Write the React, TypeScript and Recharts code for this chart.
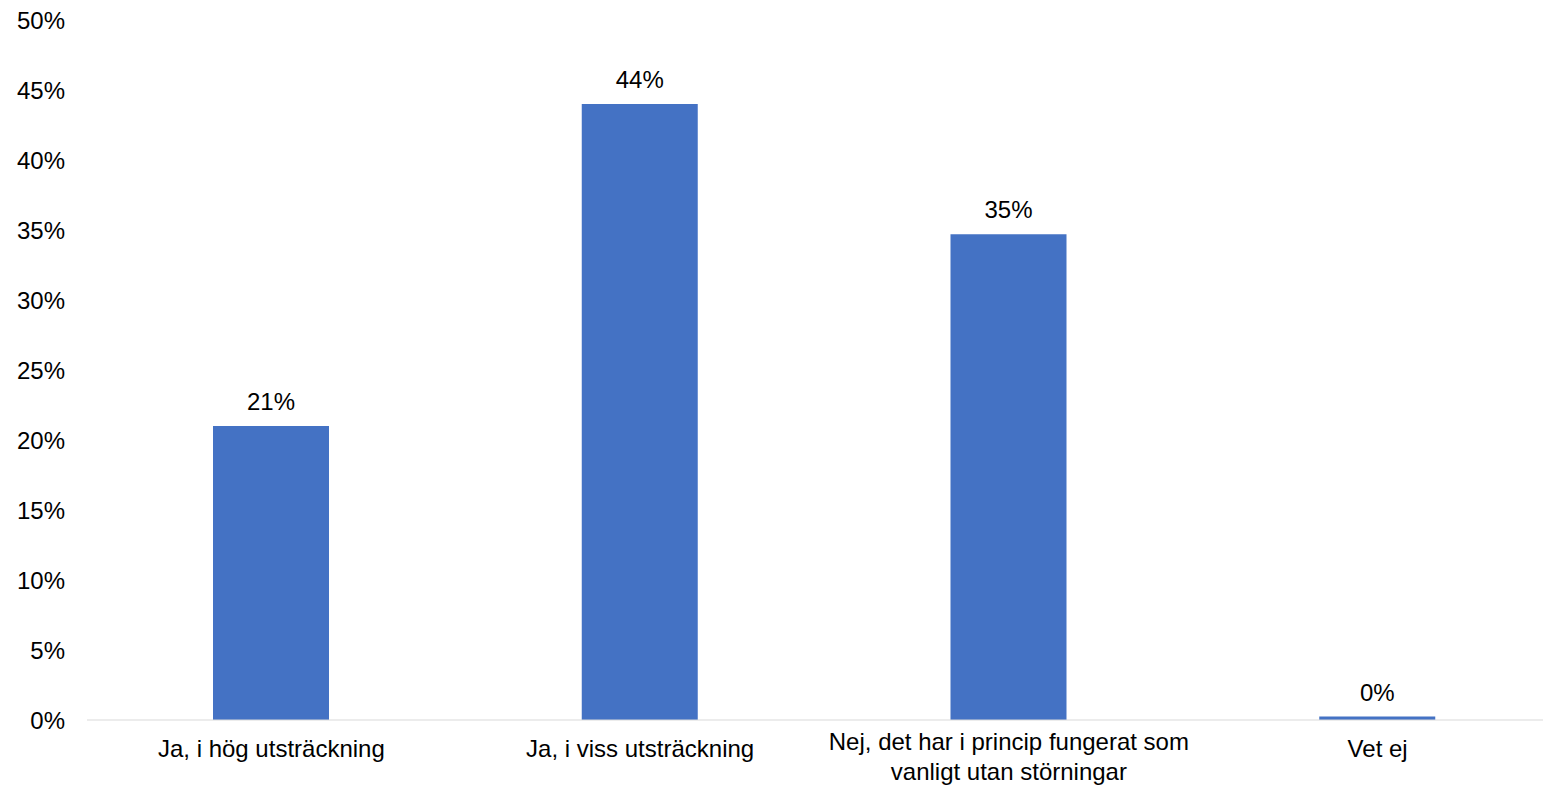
import React from "react";
import { BarChart, Bar, XAxis, YAxis, LabelList } from "recharts";

const categories = [
  "Ja, i hög utsträckning",
  "Ja, i viss utsträckning",
  "Nej, det har i princip fungerat som\nvanligt utan störningar",
  "Vet ej",
];
const values = [0.21, 0.44, 0.347, 0.0025];
const yTicks = [0, 0.05, 0.1, 0.15, 0.2, 0.25, 0.3, 0.35, 0.4, 0.45, 0.5];

const data = categories.map((c, i) => ({ name: c, value: values[i] }));

const FONT = "'Liberation Sans', Arial, sans-serif";
const FS = 24;

const pct = (v: number) => `${Math.round(v * 100)}%`;

const XTick = (props: any) => {
  const { x, y, payload } = props;
  const lines = String(payload.value).split("\n");
  const first = lines.length === 1 ? 37 : 30;
  return (
    <g>
      {lines.map((l, i) => (
        <text
          key={i}
          x={x}
          y={y + first + i * 30}
          textAnchor="middle"
          fontFamily={FONT}
          fontSize={FS}
          fill="#000"
        >
          {l}
        </text>
      ))}
    </g>
  );
};

export default function App() {
  return (
    <div
      style={{
        position: "absolute",
        left: 0,
        top: 0,
        width: 1543,
        height: 791,
        overflow: "hidden",
        background: "#fff",
      }}
    >
      <BarChart
        width={1562}
        height={791}
        data={data}
        margin={{ top: 20, right: 0, bottom: 11, left: 0 }}
        barCategoryGap={0}
      >
        <XAxis
          dataKey="name"
          interval={0}
          tickLine={false}
          tickSize={0}
          tickMargin={0}
          height={60}
          axisLine={{ stroke: "#D9D9D9", strokeWidth: 1 }}
          tick={<XTick />}
        />
        <YAxis
          width={87}
          domain={[0, 0.5]}
          ticks={yTicks}
          tickFormatter={pct}
          axisLine={false}
          tickLine={false}
          tickSize={0}
          tickMargin={22}
          tick={{ fontFamily: FONT, fontSize: FS, fill: "#000" }}
        />
        <Bar dataKey="value" fill="#4472C4" barSize={116} isAnimationActive={false}>
          <LabelList
            dataKey="value"
            position="top"
            offset={16}
            formatter={(v: any) => pct(Number(v))}
            style={{ fontFamily: FONT, fontSize: FS, fill: "#000" }}
          />
        </Bar>
      </BarChart>
    </div>
  );
}
